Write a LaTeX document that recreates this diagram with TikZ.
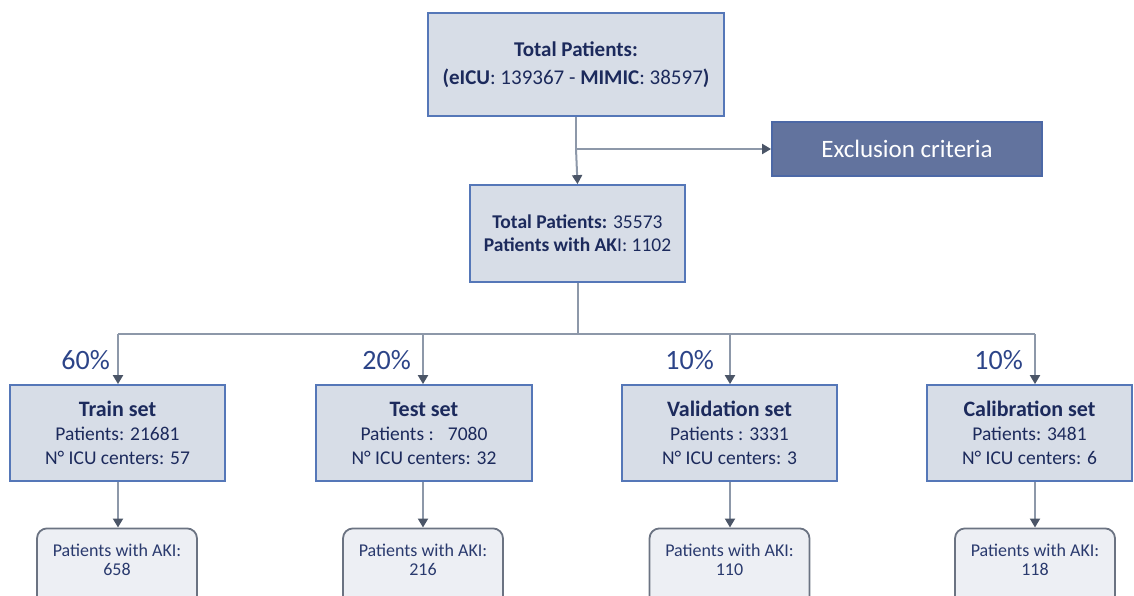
\documentclass[tikz,border=0pt]{standalone}
\usepackage{fontspec}
\setmainfont{Carlito}
\usetikzlibrary{arrows.meta}
\definecolor{boxfill}{HTML}{D7DDE7}
\definecolor{boxdraw}{HTML}{5577B8}
\definecolor{navy}{HTML}{1C2A5C}
\definecolor{pctcol}{HTML}{2C4488}
\definecolor{exfill}{HTML}{62739E}
\definecolor{exdraw}{HTML}{4C68A6}
\definecolor{akifill}{HTML}{EDEFF4}
\definecolor{akidraw}{HTML}{6B7382}
\definecolor{akitext}{HTML}{2A3A6E}
\definecolor{linecol}{HTML}{8D98A9}
\definecolor{tipcol}{HTML}{4B5567}
\tikzset{
  setbox/.style={draw=boxdraw, line width=1.8pt, fill=boxfill, text=navy, align=center, inner sep=0pt,
    minimum width=215pt, minimum height=96pt, font=\fontsize{19.5}{24}\selectfont},
  akibox/.style={draw=akidraw, line width=1.8pt, fill=akifill, text=akitext, align=center, inner sep=0pt,
    rounded corners=10pt, minimum width=160pt, minimum height=82pt, font=\fontsize{18}{19}\selectfont},
  pct/.style={text=pctcol, font=\fontsize{28}{30}\selectfont, inner sep=0pt, anchor=east},
  conn/.style={draw=linecol, line width=2pt, -{Triangle[width=10pt,length=9pt,color=tipcol]}},
  plain/.style={draw=linecol, line width=2pt}
}
\begin{document}
\begin{tikzpicture}[x=1pt,y=-1pt]
\useasboundingbox (0,0) rectangle (1134,595);
% top
\node[setbox, minimum width=296pt, minimum height=103pt, font=\fontsize{21}{28}\selectfont] (top) at (576,64.5)
  {\textbf{Total Patients:}\\\textbf{(eICU}: 139367 - \textbf{MIMIC}: 38597\textbf{)}};
\node[draw=exdraw, line width=1.8pt, fill=exfill, text=white, minimum width=270pt, minimum height=54pt,
  inner sep=0pt, font=\fontsize{25}{28}\selectfont] (excl) at (907,149) {Exclusion criteria};
\node[setbox, minimum height=97pt, font=\fontsize{19.5}{23}\selectfont] (mid) at (577.5,233.5)
  {\textbf{Total Patients:} 35573\\\textbf{Patients with AK}I: 1102};
\coordinate (j1) at (top.south |- excl.west);
\draw[plain] (top.south) -- (j1);
\draw[conn] (j1) -- (mid.north);
\draw[conn] (j1) -- (excl.west);
% sets
\node[setbox] (train) at (117.5,433) {{\fontsize{22}{24}\selectfont\textbf{Train set}}\\Patients: 21681\\N° ICU centers: 57};
\node[setbox, minimum width=216pt] (test) at (424,433) {{\fontsize{22}{24}\selectfont\textbf{Test set}}\\Patients :\enspace\ 7080\\N° ICU centers: 32};
\node[setbox] (val) at (729.5,433) {{\fontsize{22}{24}\selectfont\textbf{Validation set}}\\Patients : 3331\\N° ICU centers: 3};
\node[setbox, minimum width=205pt] (cal) at (1029.5,433) {{\fontsize{22}{24}\selectfont\textbf{Calibration set}}\\Patients: 3481\\N° ICU centers: 6};
% branch
\coordinate (jm) at (577.5,334);
\coordinate (jt) at (118,334);
\coordinate (je) at (423,334);
\coordinate (jv) at (730,334);
\coordinate (jc) at (1035,334);
\draw[plain] (mid.south) -- (jm);
\draw[plain] (jt) -- (jc);
\draw[conn] (jt) -- (jt |- train.north);
\draw[conn] (je) -- (je |- test.north);
\draw[conn] (jv) -- (jv |- val.north);
\draw[conn] (jc) -- (jc |- cal.north);
\node[pct] (p1) at (110,360) {60\%};
\node[pct] (p2) at (411,360) {20\%};
\node[pct] (p3) at (714,360) {10\%};
\node[pct] (p4) at (1023,360) {10\%};
% AKI boxes
\node[akibox, anchor=north] (a1) at (117,527.5) {Patients with AKI:\\658\\\mbox{}};
\node[akibox, anchor=north] (a2) at (423,527.5) {Patients with AKI:\\216\\\mbox{}};
\node[akibox, anchor=north] (a3) at (729.5,527.5) {Patients with AKI:\\110\\\mbox{}};
\node[akibox, anchor=north] (a4) at (1035,527.5) {Patients with AKI:\\118\\\mbox{}};
\draw[conn] (train.south -| jt) -- (a1.north -| jt);
\draw[conn] (test.south -| je) -- (a2.north -| je);
\draw[conn] (val.south -| jv) -- (a3.north -| jv);
\draw[conn] (cal.south -| jc) -- (a4.north -| jc);
\end{tikzpicture}
\end{document}
